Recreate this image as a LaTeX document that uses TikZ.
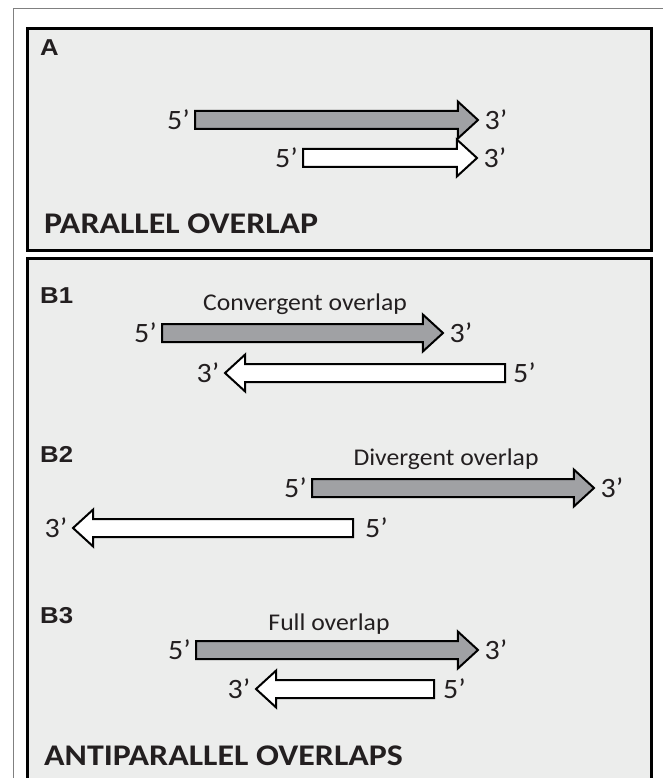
\documentclass[tikz,border=0pt]{standalone}
\usepackage{fontspec}
\setmainfont[FakeStretch=1.07]{Carlito}
\newfontfamily\titlefont[FakeStretch=1.13]{Carlito}
\newfontfamily\casefont[FakeStretch=1.12]{Liberation Sans}
\usetikzlibrary{shapes.arrows,positioning}
\definecolor{panelbg}{HTML}{ECEDEC}
\definecolor{strandgray}{HTML}{A0A1A4}
\definecolor{ink}{HTML}{231F20}

\begin{document}
\begin{tikzpicture}[
    x=1pt, y=-1pt,
    panel/.style={draw=black, line width=3pt, fill=panelbg},
    strand/.style={single arrow, draw=black, line width=2pt, anchor=tail,
        inner xsep=0pt, inner ysep=8pt, minimum width=0pt, minimum height=#1,
        single arrow head extend=9.5pt, single arrow tip angle=85},
    prime/.style={font=\fontsize{28}{28}\selectfont, text=ink, inner sep=0pt},
    kind/.style={font=\fontsize{24}{24}\selectfont, text=ink, inner sep=0pt, anchor=base},
    case/.style={font=\casefont\bfseries\fontsize{23}{23}\selectfont, text=ink, inner sep=0pt, anchor=base west},
    title/.style={font=\titlefont\bfseries\fontsize{30}{30}\selectfont, text=ink, inner sep=0pt, anchor=base west},
  ]
  \useasboundingbox (0,0) rectangle (663,778);
  \clip (0,0) rectangle (663,778);
  \draw[gray, line width=1pt] (13,790) |- (680,9);
  \draw[panel] (27,29) rectangle (651,250);
  \draw[panel] (27,258) rectangle (651,800);
  % panel labels
  \node[case] (labA) at (40,56) {A};
  \node[case] (labB1) at (40,303) {B1};
  \node[case] (labB2) at (40,462) {B2};
  \node[case] (labB3) at (40,623) {B3};
  \node[title] (parallel) at (44,233) {PARALLEL OVERLAP};
  \node[title] (antiparallel) at (44,765) {ANTIPARALLEL OVERLAPS};
  \node[kind] (conv) at (305,310) {Convergent overlap};
  \node[kind] (div) at (446,465) {Divergent overlap};
  \node[kind] (full) at (329,630) {Full overlap};
  % strands pointing right
  \foreach \x/\y/\len/\col/\name in {
      194/120/283/strandgray/a1, 302/158/174/white/a2,
      161/333/281/strandgray/b1top, 311/488/282/strandgray/b2top,
      195/650/282/strandgray/b3top}
  {
    \node[strand=\len pt, fill=\col] (\name) at (\x,\y) {};
    \node[prime, left=4pt of \name.tail] (\name5) {5’};
    \node[prime, right=5pt of \name.tip] (\name3) {3’};
  }
  % strands pointing left
  \foreach \x/\y/\len/\gap/\name in {
      506/373/280/7/b1bot, 354/528/280/11/b2bot, 435/689/178/8/b3bot}
  {
    \node[strand=\len pt, fill=white, rotate=180] (\name) at (\x,\y) {};
    \node[prime, right=\gap pt of \name.tail] (\name5) {5’};
    \node[prime, left=4pt of \name.tip] (\name3) {3’};
  }
\end{tikzpicture}
\end{document}
